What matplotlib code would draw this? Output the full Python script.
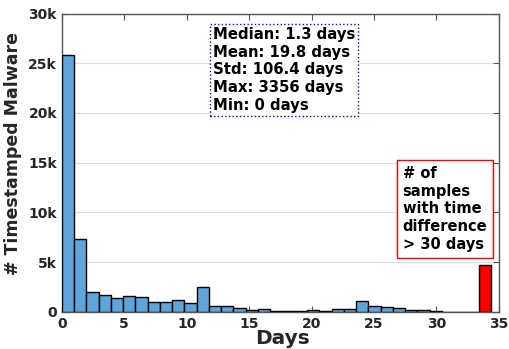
import matplotlib
matplotlib.use("Agg")
import matplotlib.pyplot as plt
import numpy as np

# histogram counts per day bin (last bin = samples with > 30 days)
counts = [25880, 7280, 1990, 1690, 1390, 1620, 1460, 980, 1020, 1150,
          900, 2460, 580, 580, 350, 200, 270, 130, 130, 130,
          200, 130, 270, 270, 1100, 600, 470, 370, 170, 170,
          70, 0, 0, 0, 4750]
xticks = [0, 5, 10, 15, 20, 25, 30, 35]
yticks = [0, 5000, 10000, 15000, 20000, 25000, 30000]
ytick_labels = ["0", "5k", "10k", "15k", "20k", "25k", "30k"]
stats_text = "Median: 1.3 days\nMean: 19.8 days\nStd: 106.4 days\nMax: 3356 days\nMin: 0 days"
note_text = "# of\nsamples\nwith time\ndifference\n> 30 days"

plt.rcParams['font.family'] = 'DejaVu Sans'
plt.rcParams['font.weight'] = 'bold'

fig = plt.figure(figsize=(5.09, 3.49), dpi=100)
ax = fig.add_axes([0.1214, 0.1066, 0.8586, 0.8545])

bin_width = 0.982
edges = np.arange(len(counts)) * bin_width
colors = ['#5DA5DA'] * (len(counts) - 1) + ['#FF0000']
ax.bar(edges, counts, width=bin_width, align='edge', color=colors,
       edgecolor='black', linewidth=1.0, zorder=3)

ax.set_xlim(0, 35)
ax.set_ylim(0, 30000)
ax.set_xticks(xticks)
ax.set_yticks(yticks)
ax.set_yticklabels(ytick_labels)
ax.tick_params(direction='in', top=True, right=True, labelsize=10,
               colors='#555555', labelcolor='#262626', length=4)
for lab in ax.get_xticklabels() + ax.get_yticklabels():
    lab.set_fontweight('bold')
ax.yaxis.grid(True, color='#dddddd', linewidth=0.8, zorder=0)
ax.set_axisbelow(True)
for s in ax.spines.values():
    s.set_color('#555555')
    s.set_linewidth(1.0)

ax.set_xlabel("Days", fontsize=14.5, fontweight='bold', color='#262626')
ax.xaxis.set_label_coords(0.506, -0.058)
ax.set_ylabel("# Timestamped Malware", fontsize=12.5, fontweight='bold', color='#262626')
ax.yaxis.set_label_coords(-0.09, 0.532)

ax.text(0.346, 0.955, stats_text, transform=ax.transAxes, fontsize=10.7,
        fontweight='bold', ha='left', va='top', linespacing=1.22, zorder=5,
        bbox=dict(boxstyle='square,pad=0.2', facecolor='white',
                  edgecolor='blue', linestyle=':', linewidth=1.0))
ax.text(0.78, 0.49, note_text, transform=ax.transAxes, fontsize=10.5,
        fontweight='bold', ha='left', va='top', linespacing=1.24, zorder=5,
        bbox=dict(boxstyle='square,pad=0.4', facecolor='white',
                  edgecolor='red', linewidth=1.0))

fig.savefig("out.png", dpi=100)
